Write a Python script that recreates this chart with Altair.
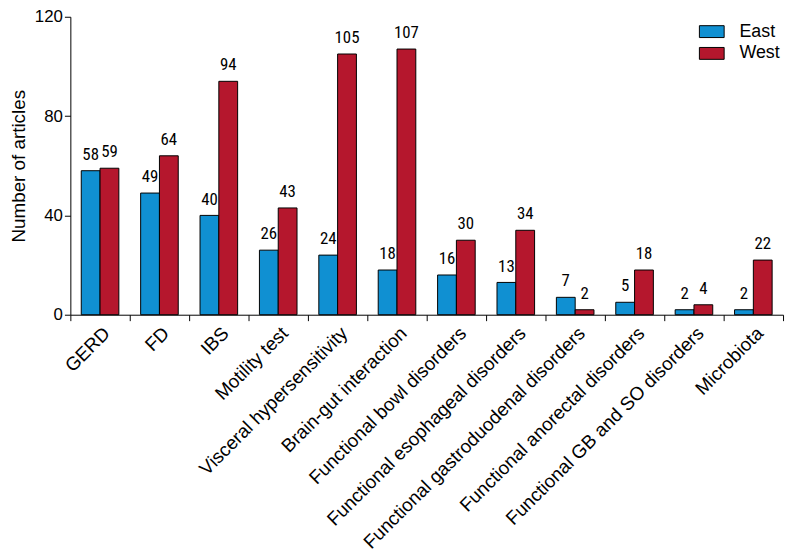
import altair as alt
import pandas as pd

categories = ["GERD", "FD", "IBS", "Motility test", "Visceral hypersensitivity",
              "Brain-gut interaction", "Functional bowl disorders",
              "Functional esophageal disorders", "Functional gastroduodenal disorders",
              "Functional anorectal disorders", "Functional GB and SO disorders",
              "Microbiota"]
east = [58, 49, 40, 26, 24, 18, 16, 13, 7, 5, 2, 2]
west = [59, 64, 94, 43, 105, 107, 30, 34, 2, 18, 4, 22]
regions = ["East", "West"]
colors = ["#1090d2", "#b5172d"]

rows = []
for c, e, w in zip(categories, east, west):
    rows.append({"cat": c, "region": "East", "n": e})
    rows.append({"cat": c, "region": "West", "n": w})
df = pd.DataFrame(rows)

FONT = "Liberation Sans"
NARROW = "Liberation Sans Narrow, Roboto Condensed, Liberation Sans"

x_enc = alt.X("cat:N", sort=categories, title=None,
              scale=alt.Scale(paddingInner=0, paddingOuter=0),
              axis=alt.Axis(labelAngle=-45, labelFontSize=19, labelFont=FONT,
                            labelColor="black", tickBand="extent", tickSize=6,
                            tickColor="black", domainColor="black", labelPadding=3,
                            labelLimit=500))
xoff = alt.XOffset("region:N", sort=regions,
                   scale=alt.Scale(paddingInner=0, paddingOuter=0.58))

base = alt.Chart(df)

bars = base.mark_bar(stroke="black", strokeWidth=1).encode(
    x=x_enc,
    xOffset=xoff,
    y=alt.Y("n:Q", title="Number of articles",
            scale=alt.Scale(domain=[0, 120], nice=False),
            axis=alt.Axis(values=[0, 40, 80, 120], grid=False, labelFontSize=17,
                          labelFont=FONT, labelColor="black", titleFont=FONT,
                          titleFontSize=19, titleFontWeight="normal",
                          titleColor="black", tickColor="black",
                          domainColor="black", tickSize=6, titlePadding=6)),
    color=alt.Color("region:N", sort=regions,
                    scale=alt.Scale(domain=regions, range=colors),
                    legend=alt.Legend(title=None, orient="none", legendX=635,
                                      legendY=2, labelFontSize=18, labelFont=FONT,
                                      labelColor="black",
                                      symbolType="M-1,-0.48L1,-0.48L1,0.48L-1,0.48Z",
                                      symbolSize=625, symbolStrokeColor="black",
                                      symbolStrokeWidth=1, symbolOpacity=1,
                                      rowPadding=-8, labelOffset=15)),
)

labels = base.mark_text(baseline="bottom", dy=-7, fontSize=17, font=NARROW,
                        color="black").encode(
    x=alt.X("cat:N", sort=categories),
    xOffset=alt.XOffset("region:N", sort=regions),
    y="n:Q",
    text="n:Q",
)

chart = alt.layer(bars, labels).properties(
    width=720, height=301,
    autosize=alt.AutoSizeParams(type="none"),
    padding={"left": 63, "top": 6, "right": 4, "bottom": 250},
).configure_view(stroke=None).configure_axisY(domainWidth=1)

chart.save("out.html", embed_options={"renderer": "svg", "actions": False})
